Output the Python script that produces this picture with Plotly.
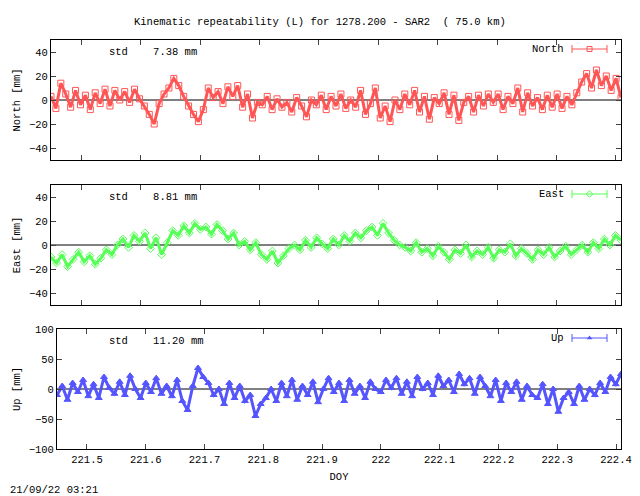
import numpy as np
import plotly.graph_objects as go

north = [3, -7, 14, 5, -6, 8, -4,
         4, -8, 6, -3, 9, -5,
         8, 0, 7, -2, 9, 1,
         -5, -12, -20, -3, 5, 10,
         18, 12, 3, -5, -12, -18,
         -8, 10, 2, 7, -3, 11,
         3, 12, -6, 5, -15, -2,
         -4, 3, -8, 1, -6, -2,
         -10, 2, -5, -14, 0, -4,
         4, -8, 3, -5, 5, -7,
         0, -6, 8, -12, -3, 10,
         -15, -5, -18, 0, -8, 5,
         -4, 8, -10, 3, -16, 2,
         -3, 6, -12, 4, -17, -2,
         3, -10, 4, -5, 5, -2,
         5, -8, 3, -3, 10, -10,
         6, -5, 2, -8, 4, -6,
         5, -7, 3, -4, 6,
         15, 22, 10, 25, 12, 20, 8, 18, 2]
east = [-10, -15, -8, -18, -12, -6, -14, -9, -16, -11, -4, -8,
        0, 5, -2, 8, 3, 10, -3, 6, -8, 2,
        12, 8, 16, 10, 18, 13, 15, 9, 17, 12,
        5, 10, 0, 3, -4, 2,
        -8, -12, -5, -15, -9, -3,
        0, -4, 4, -2, 6, 1, -3, 5,
        0, 8, 3, 10, 6, 12, 15, 8, 18, 10,
        4, 0, -2, -5, 2, -6,
        -3, -9, -1, -6, -12, -4, -7, 0, -10, -5,
        -8, -2, -11, -4, -6, 1, -9, -3,
        -7, -12, -4, -8, -2, -10, -5, -1, -8,
        -4, 0, -6, 2, -3, 5, 0, 8, 4]
up = [-10, 5, -18, 10, -5, 15, -12, 8, -15, 20, 2, -8,
      12, -10, 22, 0, -15, 10, -5, 18, -8, 5,
      -12, 15, -20, -35, 5, 35, 20, 10, -10, 0,
      -25, 10, -15, 5, -20, -10, -45, -25, -15, 0,
      -20, 10, -12, 15, -18, 5, -10, 12, -22, 0,
      18, -5, 10, -20, 15, -8, 5, -15, 12, 0,
      -5, 15, 2, 18, -8, 12, -12, 20, 0, 10,
      -10, 22, 5, 15, -5, 25, 8, 18, -8, 20,
      5, -12, 15, -20, 10, -5, 12, -18, 5, -10,
      -15, 8, -25, 0, -38, -15, -5, -25, 5, -18,
      0, -10, 10, -5, 20, 8, 25]
std_vals = ["7.38", "8.81", "11.20"]
names = ["North", "East", "Up"]
x_ticks = [221.5, 221.6, 221.7, 221.8, 221.9, 222.0, 222.1, 222.2, 222.3, 222.4]
x_tick_text = ["221.5", "221.6", "221.7", "221.8", "221.9", "222", "222.1", "222.2", "222.3", "222.4"]
x0, x1 = 221.449, 222.4085

colors = ["#ff5555", "#55ff55", "#5555ff"]
symbols = ["square-open", "diamond-open", "triangle-up"]
font = dict(family="Liberation Mono", size=10.5, color="black")


# page body has an 8px margin, so shift pixel positions by it
def px(x):
    return (x - 8) / 640


def py(y):
    return 1 - (y - 8) / 496


ydoms = [[py(160), py(40)], [py(305), py(185)], [py(449), py(329)]]
xdoms = [[px(51), px(621)], [px(51), px(621)], [px(57), px(621)]]
yranges = [[-50, 50], [-50, 50], [-100, 100]]
ydt = [20, 20, 50]


def to_x(p, dom):
    f = (px(p) - dom[0]) / (dom[1] - dom[0])
    return x0 + f * (x1 - x0)


fig = go.Figure()
for i, vals in enumerate([north, east, up]):
    n = "" if i == 0 else str(i + 1)
    t = np.linspace(x0, x1, len(vals))
    fig.add_trace(go.Scatter(x=[x0, x1], y=[0, 0], mode="lines",
                             line=dict(color="black", width=1),
                             xaxis="x" + n, yaxis="y" + n, showlegend=False))
    fig.add_trace(go.Scatter(x=t, y=vals, mode="lines+markers",
                             line=dict(color=colors[i], width=3),
                             marker=dict(symbol=symbols[i], size=6, color=colors[i],
                                         line=dict(width=1, color=colors[i])),
                             xaxis="x" + n, yaxis="y" + n, showlegend=False))
    fig.update_layout({
        "xaxis" + n: dict(domain=xdoms[i], range=[x0, x1], anchor="y" + n,
                          tickvals=x_ticks, ticktext=x_tick_text, automargin=False,
                          showticklabels=(i == 2), ticks="inside", ticklen=5,
                          mirror="ticks", showline=True, linecolor="black",
                          showgrid=False, zeroline=False, tickfont=font,
                          title=dict(text="DOY", font=font, standoff=8) if i == 2 else None),
        "yaxis" + n: dict(domain=ydoms[i], range=yranges[i], dtick=ydt[i], anchor="x" + n,
                          ticks="inside", ticklen=5, mirror="ticks", showline=True,
                          automargin=False,
                          linecolor="black", showgrid=False, zeroline=False, tickfont=font,
                          title=dict(text=names[i] + " [mm]", font=font, standoff=6)),
    })
    top = [40, 185, 329][i]
    fig.add_annotation(x=px(107), y=py(top + 12), xref="paper", yref="paper",
                       text="std    " + std_vals[i] + " mm", showarrow=False,
                       xanchor="left", yanchor="middle", font=font)
    fig.add_annotation(x=px(566), y=py(top + 9), xref="paper", yref="paper",
                       text=names[i], showarrow=False, xanchor="right", yanchor="middle",
                       font=font)
    yl = py(top + 9)
    fig.add_shape(type="line", xref="paper", yref="paper", x0=px(572), x1=px(607),
                  y0=yl, y1=yl, line=dict(color=colors[i], width=1))
    for xe in (px(572), px(607)):
        fig.add_shape(type="line", xref="paper", yref="paper", x0=xe, x1=xe,
                      y0=yl - 0.008, y1=yl + 0.008, line=dict(color=colors[i], width=1))
    yr = yranges[i]
    yd = yr[0] + (yl - ydoms[i][0]) / (ydoms[i][1] - ydoms[i][0]) * (yr[1] - yr[0])
    fig.add_trace(go.Scatter(x=[to_x(589.5, xdoms[i])], y=[yd], mode="markers",
                             xaxis="x" + n, yaxis="y" + n,
                             marker=dict(symbol=symbols[i], size=5, color=colors[i]),
                             showlegend=False))

fig.update_layout(
    width=640, height=496, margin=dict(l=0, r=0, t=0, b=0),
    paper_bgcolor="white", plot_bgcolor="white", font=font,
    showlegend=False,
)
fig.add_annotation(x=px(320), y=py(22), xref="paper", yref="paper", yanchor="middle",
                   text="Kinematic repeatability (L) for 1278.200 - SAR2  ( 75.0 km)",
                   showarrow=False, font=font)
fig.add_annotation(x=0, y=py(490), xref="paper", yref="paper", yanchor="middle",
                   text="21/09/22 03:21", showarrow=False, xanchor="left", font=font)
fig.write_html("out.html")
